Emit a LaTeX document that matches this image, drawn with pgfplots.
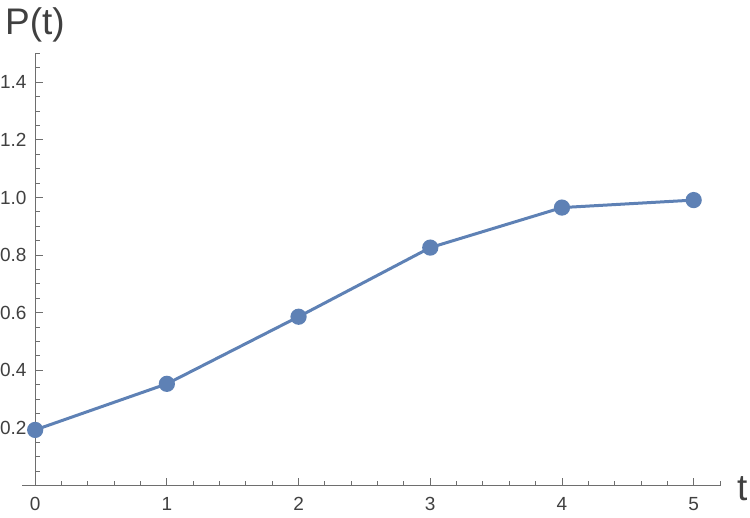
\documentclass[border=0pt]{standalone}
\usepackage{fontspec}
\setmainfont{Liberation Sans}
\usepackage{pgfplots}
\pgfplotsset{compat=1.18}

\definecolor{mmablue}{RGB}{94,129,181}
\definecolor{axisgray}{RGB}{110,110,110}
\definecolor{labelgray}{RGB}{64,64,64}

\begin{document}
\begin{tikzpicture}
\useasboundingbox (0,0) rectangle (750bp,518bp);
\begin{axis}[
    at={(22bp,32.5bp)}, anchor=south west,
    scale only axis,
    width=698bp, height=432bp,
    axis lines=middle,
    axis line style={-, draw=axisgray, line width=0.9bp},
    xmin=-0.1, xmax=5.2,
    ymin=0, ymax=1.5,
    xtick={0,1,2,3,4,5},
    ytick={0.2,0.4,0.6,0.8,1.0,1.2,1.4},
    minor xtick={0.2,0.4,0.6,0.8,1.2,1.4,1.6,1.8,2.2,2.4,2.6,2.8,3.2,3.4,3.6,3.8,4.2,4.4,4.6,4.8,5.2},
    minor ytick={0.05,0.1,0.15,0.25,0.3,0.35,0.45,0.5,0.55,0.65,0.7,0.75,0.85,0.9,0.95,1.05,1.1,1.15,1.25,1.3,1.35,1.45,1.5},
    hide obscured x ticks=false,
    tick align=inside,
    major tick length=7.5bp,
    minor tick length=4.5bp,
    every tick/.style={draw=axisgray, line width=0.9bp},
    /pgf/number format/assume math mode=true,
    tick label style={font=\fontsize{19bp}{22bp}\selectfont, text=labelgray, inner sep=0pt},
    xticklabel style={anchor=north, yshift=-12bp},
    yticklabel style={anchor=east, xshift=-8.5bp,
        /pgf/number format/.cd, fixed, fixed zerofill, precision=1},
    clip=false,
]
\addplot[color=mmablue, line width=3bp, mark=*, mark size=6.6bp,
    mark options={draw=none, fill=mmablue}]
    coordinates {(0,0.193) (1,0.353) (2,0.586) (3,0.826) (4,0.965) (5,0.991)};
\end{axis}
\node[anchor=base west, inner sep=0pt, text=labelgray, font=\fontsize{37bp}{40bp}\selectfont] at (5bp,483bp) {P(t)};
\node[anchor=base west, inner sep=0pt, text=labelgray, font=\fontsize{37bp}{40bp}\selectfont] at (737bp,18bp) {t};
\end{tikzpicture}
\end{document}
